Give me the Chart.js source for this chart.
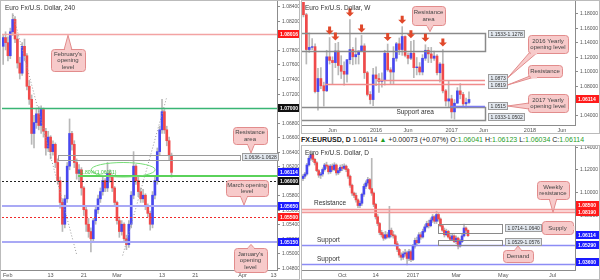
<!DOCTYPE html>
<html>
<head>
<meta charset="utf-8">
<script src="https://cdn.jsdelivr.net/npm/chart.js@4"></script>
<style>
  body { margin: 0; background: #fff; font-family: "Liberation Sans", Arial, sans-serif; }
  .panel { position: absolute; border: 1px solid #bbb; background: #fff; }
  .panel canvas { display: block; }
  #info { position: absolute; left: 301px; top: 136px; font-size: 7px; color: #222; white-space: nowrap; }
  #info .g { color: #1f9e1f; }
</style>
</head>
<body>
<div class="panel" style="left:0;top:0;width:298px;height:278px"><canvas id="h4" width="298" height="278"></canvas></div>
<div class="panel" style="left:301px;top:0;width:297px;height:132px"><canvas id="wk" width="297" height="132"></canvas></div>
<div id="info"><b>FX:EURUSD, D</b> 1.06114 <span class="g">&#9650;</span> +0.00073 (+0.07%) O:<span class="g">1.06041</span> H:<span class="g">1.06123</span> L:<span class="g">1.06034</span> C:<span class="g">1.06114</span></div>
<div class="panel" style="left:301px;top:145px;width:297px;height:133px"><canvas id="dy" width="297" height="133"></canvas></div>
<script>
// ---- 4H candles (Feb 1 - Mar 16 2017)
const h4Open = [1.0785,1.0797,1.0790,1.0772,1.0805,1.0822,1.0795,1.0762,1.0748,1.0785,
  1.0772,1.0730,1.0712,1.0665,1.0680,1.0692,1.0676,1.0698,1.0668,1.0645,
  1.0660,1.0640,1.0650,1.0625,1.0600,1.0570,1.0540,1.0575,1.0620,1.0665,
  1.0650,1.0625,1.0610,1.0615,1.0590,1.0560,1.0540,1.0530,1.0520,1.0545,
  1.0560,1.0575,1.0585,1.0600,1.0590,1.0610,1.0605,1.0590,1.0570,1.0545,
  1.0530,1.0540,1.0520,1.0512,1.0540,1.0580,1.0620,1.0600,1.0585,1.0575,
  1.0580,1.0565,1.0555,1.0540,1.0580,1.0600,1.0640,1.0670,1.0695,1.0670,
  1.0655,1.0635];
const h4High = [1.0800,1.0805,1.0798,1.0810,1.0830,1.0826,1.0800,1.0770,1.0790,1.0795,
  1.0775,1.0738,1.0718,1.0690,1.0700,1.0702,1.0703,1.0700,1.0672,1.0668,
  1.0662,1.0655,1.0652,1.0630,1.0605,1.0575,1.0580,1.0625,1.0685,1.0668,
  1.0655,1.0630,1.0622,1.0618,1.0592,1.0565,1.0548,1.0535,1.0548,1.0565,
  1.0580,1.0590,1.0605,1.0603,1.0625,1.0615,1.0608,1.0592,1.0572,1.0550,
  1.0545,1.0542,1.0525,1.0545,1.0585,1.0640,1.0622,1.0605,1.0590,1.0588,
  1.0582,1.0568,1.0558,1.0585,1.0605,1.0645,1.0675,1.0712,1.0698,1.0675,
  1.0660,1.0638];
const h4Low = [1.0760,1.0780,1.0765,1.0768,1.0800,1.0790,1.0755,1.0740,1.0745,1.0765,
  1.0725,1.0705,1.0650,1.0645,1.0672,1.0670,1.0665,1.0660,1.0635,1.0640,
  1.0630,1.0635,1.0618,1.0595,1.0562,1.0530,1.0535,1.0570,1.0615,1.0642,
  1.0618,1.0602,1.0600,1.0580,1.0552,1.0530,1.0522,1.0502,1.0515,1.0540,
  1.0555,1.0570,1.0580,1.0585,1.0585,1.0598,1.0585,1.0565,1.0540,1.0522,
  1.0525,1.0515,1.0505,1.0508,1.0535,1.0575,1.0595,1.0578,1.0570,1.0570,
  1.0560,1.0550,1.0532,1.0535,1.0575,1.0595,1.0635,1.0665,1.0665,1.0648,
  1.0628,1.0605];
const h4Close = [1.0797,1.0790,1.0772,1.0805,1.0822,1.0795,1.0762,1.0748,1.0785,1.0772,
  1.0730,1.0712,1.0665,1.0680,1.0692,1.0676,1.0698,1.0668,1.0645,1.0660,
  1.0640,1.0650,1.0625,1.0600,1.0570,1.0540,1.0575,1.0620,1.0665,1.0650,
  1.0625,1.0610,1.0615,1.0590,1.0560,1.0540,1.0530,1.0520,1.0545,1.0560,
  1.0575,1.0585,1.0600,1.0590,1.0610,1.0605,1.0590,1.0570,1.0545,1.0530,
  1.0540,1.0520,1.0512,1.0540,1.0580,1.0620,1.0600,1.0585,1.0575,1.0580,
  1.0565,1.0555,1.0540,1.0580,1.0600,1.0640,1.0670,1.0695,1.0670,1.0655,
  1.0635,1.06114];
const h4YTicks = [1.048,1.050,1.052,1.054,1.056,1.058,1.060,1.062,1.064,1.066,1.068,
  1.070,1.072,1.074,1.076,1.078,1.080,1.082,1.084];
const h4XTickPos = [0, 20, 34, 48, 67, 81, 101, 114];
const h4XTickText = ['Feb', '13', '21', 'Mar', '13', '21', 'Apr', '13'];
const febOpen = 1.08016, fib100 = 1.07000, fib618 = 1.06061, round106 = 1.06000;
const marOpen = 1.05650, level1055 = 1.05500, janOpen = 1.05150, lastPrice = 1.06114;
const h4Zone = [1.0636, 1.0628];

// ---- weekly candles, two weeks per bar (Jan 2015 - Mar 2017)
const wOpen = [1.2000,1.1780,1.1300,1.1330,1.1340,1.0720,1.0900,1.0800,1.0730,1.1200,
  1.1150,1.1120,1.1280,1.1080,1.1000,1.0960,1.1160,1.1300,1.1200,1.1230,
  1.1280,1.1350,1.0980,1.0680,1.0610,1.0950,1.0900,1.0860,1.0870,1.1250,
  1.1020,1.0990,1.1180,1.1380,1.1300,1.1480,1.1220,1.1180,1.1250,1.1050,
  1.1060,1.0990,1.1180,1.1290,1.1240,1.1180,1.1210,1.0980,1.1100,1.0730,
  1.0590,1.0620,1.0440,1.0560,1.0730,1.0680,1.0550,1.0570];
const wHigh = [1.2050,1.1800,1.1530,1.1450,1.1380,1.1040,1.1050,1.0850,1.1290,1.1466,
  1.1200,1.1385,1.1400,1.1215,1.1130,1.1160,1.1714,1.1330,1.1460,1.1280,
  1.1495,1.1380,1.1000,1.0720,1.1040,1.1060,1.0970,1.0980,1.1290,1.1376,
  1.1050,1.1340,1.1400,1.1460,1.1616,1.1490,1.1250,1.1415,1.1428,1.1190,
  1.1120,1.1230,1.1366,1.1330,1.1330,1.1280,1.1230,1.1120,1.1299,1.0750,
  1.0873,1.0670,1.0610,1.0775,1.0829,1.0710,1.0630,1.0715];
const wLow = [1.1750,1.1100,1.1260,1.1300,1.0700,1.0462,1.0760,1.0520,1.0720,1.1100,
  1.0820,1.1050,1.0950,1.0900,1.0810,1.0850,1.1100,1.1090,1.1100,1.1100,
  1.1270,1.0900,1.0660,1.0550,1.0524,1.0800,1.0710,1.0780,1.0810,1.1000,
  1.0820,1.0820,1.1140,1.1230,1.1220,1.1200,1.1100,1.1160,1.0912,1.0950,
  1.0950,1.0950,1.1150,1.1120,1.1120,1.1150,1.0950,1.0850,1.0700,1.0520,
  1.0500,1.0352,1.0340,1.0560,1.0620,1.0520,1.0494,1.0550];
const wClose = [1.1780,1.1300,1.1330,1.1340,1.0720,1.0900,1.0800,1.0730,1.1200,1.1150,
  1.1120,1.1280,1.1080,1.1000,1.0960,1.1160,1.1300,1.1200,1.1230,1.1280,
  1.1350,1.0980,1.0680,1.0610,1.0950,1.0900,1.0860,1.0870,1.1250,1.1020,
  1.0990,1.1180,1.1380,1.1300,1.1480,1.1220,1.1180,1.1250,1.1050,1.1060,
  1.0990,1.1180,1.1290,1.1240,1.1180,1.1210,1.0980,1.1100,1.0730,1.0590,
  1.0620,1.0440,1.0560,1.0730,1.0680,1.0550,1.0570,1.06114];
const wYTicks = [1.04, 1.06, 1.08, 1.10, 1.12, 1.14, 1.16, 1.18];
const wXTickPos = [10, 25, 36, 51, 62, 78, 89];
const wXTickText = ['Jun', '2016', 'Jun', '2017', 'Jun', '2018', 'Jun'];
const wResZone = [1.1533, 1.1278], wSupZone = [1.0502, 1.0333];
const open2016 = 1.0873, wRes = 1.0819, open2017 = 1.0515;
const wPeaks = [9, 11, 16, 20, 29, 34, 37, 42, 48];

// ---- daily candles, two sessions per bar (Aug 2016 - Mar 2017)
const dOpen = [1.1120,1.1140,1.1160,1.1240,1.1300,1.1330,1.1290,1.1260,1.1190,1.1150,
  1.1160,1.1200,1.1240,1.1230,1.1180,1.1230,1.1200,1.1240,1.1170,1.1190,
  1.1220,1.1210,1.1230,1.1200,1.1140,1.1060,1.0990,1.0970,1.0930,1.0880,
  1.0900,1.0980,1.1050,1.1080,1.1110,1.1030,1.0990,1.0890,1.0780,1.0720,
  1.0640,1.0620,1.0590,1.0620,1.0600,1.0660,1.0620,1.0610,1.0540,1.0490,
  1.0440,1.0420,1.0450,1.0460,1.0410,1.0470,1.0400,1.0520,1.0570,1.0550,
  1.0620,1.0600,1.0650,1.0690,1.0720,1.0700,1.0750,1.0780,1.0740,1.0800,
  1.0760,1.0700,1.0660,1.0620,1.0650,1.0600,1.0580,1.0610,1.0560,1.0590,
  1.0520,1.0560,1.0610,1.0680,1.0660];
const dHigh = [1.1155,1.1175,1.1255,1.1320,1.1366,1.1345,1.1300,1.1270,1.1200,1.1175,
  1.1215,1.1255,1.1265,1.1240,1.1245,1.1250,1.1260,1.1250,1.1210,1.1240,
  1.1245,1.1250,1.1240,1.1210,1.1150,1.1070,1.1000,1.0990,1.0940,1.0920,
  1.0990,1.1070,1.1100,1.1130,1.1120,1.1299,1.1000,1.0900,1.0800,1.0730,
  1.0660,1.0640,1.0650,1.0640,1.0873,1.0680,1.0650,1.0620,1.0560,1.0500,
  1.0460,1.0470,1.0490,1.0475,1.0490,1.0485,1.0535,1.0590,1.0600,1.0640,
  1.0640,1.0670,1.0710,1.0740,1.0750,1.0770,1.0800,1.0790,1.0829,1.0810,
  1.0770,1.0710,1.0680,1.0670,1.0660,1.0620,1.0630,1.0620,1.0610,1.0600,
  1.0580,1.0625,1.0715,1.0690,1.0665];
const dLow = [1.1100,1.1120,1.1150,1.1230,1.1280,1.1270,1.1240,1.1180,1.1130,1.1120,
  1.1140,1.1185,1.1210,1.1160,1.1165,1.1185,1.1190,1.1150,1.1155,1.1175,
  1.1190,1.1200,1.1180,1.1120,1.1040,1.0970,1.0950,1.0910,1.0860,1.0860,
  1.0880,1.0960,1.1030,1.1060,1.1020,1.0970,1.0870,1.0760,1.0700,1.0620,
  1.0600,1.0570,1.0580,1.0590,1.0590,1.0600,1.0590,1.0520,1.0470,1.0420,
  1.0395,1.0400,1.0430,1.0352,1.0390,1.0380,1.0390,1.0500,1.0530,1.0540,
  1.0580,1.0590,1.0640,1.0680,1.0680,1.0690,1.0730,1.0720,1.0720,1.0740,
  1.0690,1.0650,1.0600,1.0610,1.0590,1.0570,1.0570,1.0550,1.0540,1.0494,
  1.0510,1.0550,1.0600,1.0640,1.0605];
const dClose = [1.1140,1.1160,1.1240,1.1300,1.1330,1.1290,1.1260,1.1190,1.1150,1.1160,
  1.1200,1.1240,1.1230,1.1180,1.1230,1.1200,1.1240,1.1170,1.1190,1.1220,
  1.1210,1.1230,1.1200,1.1140,1.1060,1.0990,1.0970,1.0930,1.0880,1.0900,
  1.0980,1.1050,1.1080,1.1110,1.1030,1.0990,1.0890,1.0780,1.0720,1.0640,
  1.0620,1.0590,1.0620,1.0600,1.0660,1.0620,1.0610,1.0540,1.0490,1.0440,
  1.0420,1.0450,1.0460,1.0410,1.0470,1.0400,1.0520,1.0570,1.0550,1.0620,
  1.0600,1.0650,1.0690,1.0720,1.0700,1.0750,1.0780,1.0740,1.0800,1.0760,
  1.0700,1.0660,1.0620,1.0650,1.0600,1.0580,1.0610,1.0560,1.0590,1.0520,
  1.0560,1.0610,1.0680,1.0660,1.06114];
const dYTicks = [1.04, 1.06, 1.08, 1.10, 1.12, 1.14];
const dXTickPos = [20, 37, 56, 78, 102, 127];
const dXTickText = ['Oct', '14', '2017', 'Mar', 'May', 'Jul'];
const dResTop = 1.0850, dResBot = 1.0819, dSup1 = 1.0529, dSup2 = 1.0360;
const dSupply = [1.0714, 1.0640], dDemand = [1.0576, 1.0529];

const UP = '#4848f0', DN = '#f04a4a', WICK = '#b8b8b8';
const FONT = '"Liberation Sans", Arial, sans-serif';

function X(ch, i) { return ch.scales.x.getPixelForValue(i); }
function Y(ch, p) { return ch.scales.y.getPixelForValue(p); }
function clamp(v, a, b) { return Math.max(a, Math.min(b, v)); }

function inArea(ch, fn) {
  const a = ch.chartArea, ctx = ch.ctx;
  ctx.save();
  ctx.beginPath();
  ctx.rect(a.left, a.top, a.right - a.left, a.bottom - a.top);
  ctx.clip();
  fn(ctx, a);
  ctx.restore();
}

function hLine(ch, p, color, w, dash, i0, i1) {
  inArea(ch, (ctx, a) => {
    const y = Math.round(Y(ch, p)) + (w % 2 ? 0.5 : 0);
    ctx.strokeStyle = color; ctx.lineWidth = w; ctx.setLineDash(dash || []);
    ctx.beginPath();
    ctx.moveTo(i0 == null ? a.left : X(ch, i0), y);
    ctx.lineTo(i1 == null ? a.right : X(ch, i1), y);
    ctx.stroke();
  });
}

function diag(ch, i0, p0, i1, p1) {
  inArea(ch, ctx => {
    ctx.strokeStyle = '#9a9a9a'; ctx.lineWidth = 1; ctx.setLineDash([1, 2]);
    ctx.beginPath(); ctx.moveTo(X(ch, i0), Y(ch, p0)); ctx.lineTo(X(ch, i1), Y(ch, p1)); ctx.stroke();
  });
}

function zone(ch, i0, i1, p0, p1, stroke, fill, lw) {
  inArea(ch, (ctx, a) => {
    const x0 = i0 == null ? a.left - 2 : Math.round(X(ch, i0)) + 0.5;
    const x1 = Math.round(X(ch, i1)) + 0.5;
    const y0 = Math.round(Y(ch, p0)) + 0.5, y1 = Math.round(Y(ch, p1)) + 0.5;
    if (fill) { ctx.fillStyle = fill; ctx.fillRect(x0, y0, x1 - x0, y1 - y0); }
    if (stroke) { ctx.strokeStyle = stroke; ctx.lineWidth = lw || 1; ctx.strokeRect(x0, y0, x1 - x0, y1 - y0); }
  });
}

function yAxis(ch, ticks) {
  const ctx = ch.ctx, a = ch.chartArea;
  ctx.save();
  ctx.strokeStyle = '#8c8c8c'; ctx.lineWidth = 1;
  ctx.beginPath(); ctx.moveTo(a.right + 0.5, 0); ctx.lineTo(a.right + 0.5, a.bottom + 1); ctx.stroke();
  ctx.font = '5px ' + FONT; ctx.fillStyle = '#555'; ctx.textBaseline = 'middle'; ctx.textAlign = 'left';
  ticks.forEach(v => {
    const y = Math.round(Y(ch, v)) + 0.5;
    ctx.beginPath(); ctx.moveTo(a.right, y); ctx.lineTo(a.right + 3, y); ctx.stroke();
    ctx.fillText(v.toFixed(5), a.right + 5, y);
  });
  ctx.restore();
}

function xAxis(ch, pos, text) {
  const ctx = ch.ctx, a = ch.chartArea;
  ctx.save();
  ctx.strokeStyle = '#8c8c8c'; ctx.lineWidth = 1;
  ctx.beginPath(); ctx.moveTo(0, a.bottom + 0.5); ctx.lineTo(a.right + 1, a.bottom + 0.5); ctx.stroke();
  ctx.font = '5.5px ' + FONT; ctx.fillStyle = '#555'; ctx.textBaseline = 'middle'; ctx.textAlign = 'center';
  pos.forEach((i, k) => {
    const w = ctx.measureText(text[k]).width;
    ctx.fillText(text[k], Math.max(X(ch, i), w / 2 + 2), a.bottom + 5);
  });
  ctx.restore();
}

function priceTag(ch, p, text, bg, dy) {
  const ctx = ch.ctx, a = ch.chartArea;
  const y = Math.round(Y(ch, p) + (dy || 0));
  ctx.save();
  ctx.fillStyle = bg; ctx.fillRect(a.right + 1, y - 4, ch.width - a.right - 1, 8);
  ctx.fillStyle = '#fff'; ctx.font = 'bold 5px ' + FONT; ctx.textBaseline = 'middle'; ctx.textAlign = 'left';
  ctx.fillText(text, a.right + 3, y + 0.5);
  ctx.restore();
}

function rangeTag(ch, x, y, text) {
  const ctx = ch.ctx;
  ctx.save();
  ctx.font = '5px ' + FONT;
  const w = Math.round(ctx.measureText(text).width) + 4;
  x = Math.round(x) + 0.5; y = Math.round(y);
  ctx.fillStyle = '#e2e8ef'; ctx.strokeStyle = '#9d9d9d'; ctx.lineWidth = 1;
  ctx.fillRect(x, y - 3.5, w, 7); ctx.strokeRect(x, y - 3.5, w, 7);
  ctx.fillStyle = '#333'; ctx.textBaseline = 'middle'; ctx.textAlign = 'left';
  ctx.fillText(text, x + 2, y + 0.5);
  ctx.restore();
  return { right: x + w, top: y - 4, bottom: y + 4, mid: y };
}

function callout(ch, bx, by, bw, bh, lines, tx, ty) {
  const ctx = ch.ctx;
  let b1, b2, patch;
  if (ty > by + bh) {
    const cx = clamp(tx, bx + 6, bx + bw - 6);
    b1 = [cx - 4, by + bh - 1]; b2 = [cx + 4, by + bh - 1]; patch = [cx - 3, by + bh - 1.5, 6, 3];
  } else if (ty < by) {
    const cx = clamp(tx, bx + 6, bx + bw - 6);
    b1 = [cx - 4, by + 1]; b2 = [cx + 4, by + 1]; patch = [cx - 3, by - 0.5, 6, 3];
  } else if (tx < bx) {
    const cy = clamp(ty, by + 4, by + bh - 4);
    b1 = [bx + 1, cy - 3]; b2 = [bx + 1, cy + 3]; patch = [bx - 0.5, cy - 2, 3, 4];
  } else {
    const cy = clamp(ty, by + 4, by + bh - 4);
    b1 = [bx + bw - 1, cy - 3]; b2 = [bx + bw - 1, cy + 3]; patch = [bx + bw - 1.5, cy - 2, 3, 4];
  }
  ctx.save();
  ctx.fillStyle = '#f7caca'; ctx.strokeStyle = '#e28c8c'; ctx.lineWidth = 1;
  ctx.beginPath(); ctx.moveTo(b1[0], b1[1]); ctx.lineTo(tx, ty); ctx.lineTo(b2[0], b2[1]); ctx.closePath();
  ctx.fill(); ctx.stroke();
  ctx.beginPath(); ctx.roundRect(bx + 0.5, by + 0.5, bw, bh, 3); ctx.fill(); ctx.stroke();
  ctx.fillRect(patch[0], patch[1], patch[2], patch[3]);
  ctx.fillStyle = '#444'; ctx.font = '6px ' + FONT; ctx.textAlign = 'center'; ctx.textBaseline = 'middle';
  const lh = 6.5, y0 = by + bh / 2 - (lines.length - 1) * lh / 2 + 0.5;
  lines.forEach((t, k) => ctx.fillText(t, bx + bw / 2, y0 + k * lh));
  ctx.restore();
}

function note(ch, x, y, text, color, size) {
  const ctx = ch.ctx;
  ctx.save();
  ctx.fillStyle = color || '#333'; ctx.font = (size || 6) + 'px ' + FONT;
  ctx.textAlign = 'left'; ctx.textBaseline = 'alphabetic';
  ctx.fillText(text, x, y);
  ctx.restore();
}

function downArrow(ch, i, p) {
  const ctx = ch.ctx, x = X(ch, i), y = Y(ch, p) - 3;
  ctx.save();
  ctx.fillStyle = '#e0482a';
  ctx.beginPath();
  ctx.moveTo(x, y); ctx.lineTo(x - 4, y - 4); ctx.lineTo(x - 1.5, y - 4); ctx.lineTo(x - 1.5, y - 8);
  ctx.lineTo(x + 1.5, y - 8); ctx.lineTo(x + 1.5, y - 4); ctx.lineTo(x + 4, y - 4); ctx.closePath();
  ctx.fill();
  ctx.restore();
}

function candleChart(id, o, h, l, c, slots, yMin, yMax, pad, draw) {
  return new Chart(document.getElementById(id), {
    type: 'bar',
    data: {
      labels: Array.from({ length: slots }, (_, i) => String(i)),
      datasets: [
        { data: o.map((v, i) => [v, c[i]]), backgroundColor: o.map((v, i) => c[i] >= v ? UP : DN),
          barThickness: 2, grouped: false },
        { data: o.map((v, i) => [l[i], h[i]]), backgroundColor: WICK, barThickness: 1, grouped: false }
      ]
    },
    options: {
      responsive: false, animation: false, events: [],
      layout: { padding: pad },
      plugins: { legend: { display: false }, tooltip: { enabled: false } },
      scales: {
        x: { display: false },
        y: { display: false, min: yMin, max: yMax }
      }
    },
    plugins: [{ id: 'overlay', afterDatasetsDraw: draw }]
  });
}

// ---- 4H panel
candleChart('h4', h4Open, h4High, h4Low, h4Close, 116, 1.0477, 1.0846,
  { left: 1, top: 1, right: 22, bottom: 9 }, ch => {
    diag(ch, 4.2, 1.0828, 31.1, 1.0497);
    diag(ch, 50.4, 1.0497, 68.9, 1.0714);
    hLine(ch, febOpen, '#f3a3a3', 1.5);
    hLine(ch, fib100, '#39b574', 1.5);
    zone(ch, 23.1, 99.9, h4Zone[0], h4Zone[1], '#9a9a9a', null, 1);
    hLine(ch, fib618, '#5ad25a', 2, null, 31.6);
    hLine(ch, round106, '#222', 1, [2, 2]);
    hLine(ch, marOpen, '#a9a9f5', 2);
    hLine(ch, level1055, '#f02a2a', 1, [2, 2]);
    hLine(ch, janOpen, '#a9a9f5', 2);
    inArea(ch, c => {
      c.strokeStyle = '#77dd77'; c.lineWidth = 1;
      c.beginPath();
      c.ellipse(X(ch, 50.6), Y(ch, 1.0615), X(ch, 64.1) - X(ch, 50.6), Y(ch, 1.0605) - Y(ch, 1.0615), 0, 0, Math.PI * 2);
      c.stroke();
    });
    note(ch, X(ch, 31.6), Y(ch, fib618) - 2, '61.80%(1.06061)', '#3fbf3f', 5);
    yAxis(ch, h4YTicks);
    xAxis(ch, h4XTickPos, h4XTickText);
    const zt = rangeTag(ch, X(ch, 99.9) + 2, (Y(ch, h4Zone[0]) + Y(ch, h4Zone[1])) / 2, '1.0636-1.0628');
    priceTag(ch, febOpen, '1.08016', '#ff1a1a');
    priceTag(ch, fib100, '1.07000', '#111');
    priceTag(ch, lastPrice, '1.06114', '#1a1aff');
    priceTag(ch, round106, '1.06000', '#111');
    priceTag(ch, marOpen, '1.05650', '#1a1aff');
    priceTag(ch, level1055, '1.05500', '#ff1a1a');
    priceTag(ch, janOpen, '1.05150', '#1a1aff');
    callout(ch, 50, 48, 34, 22, ["February's", 'opening', 'level'], 67, Y(ch, febOpen) + 1);
    callout(ch, 232, 126, 34, 17, ['Resistance', 'area'], 250, zt.top);
    callout(ch, 225, 179, 42, 16, ['March opening', 'level'], 243, Y(ch, marOpen) - 1);
    callout(ch, 233, 247, 33, 24, ["January's", 'opening', 'level'], 250, Y(ch, janOpen) + 2);
    note(ch, 4, 9, 'Euro Fx/U.S. Dollar, 240', '#333', 6.5);
  });

// ---- weekly panel
candleChart('wk', wOpen, wHigh, wLow, wClose, 94, 1.0259, 1.1956,
  { left: 0, top: 1, right: 24, bottom: 8 }, ch => {
    zone(ch, null, 62.5, wResZone[0], wResZone[1], '#8a8a8a', null, 1.5);
    zone(ch, null, 62.5, wSupZone[0], wSupZone[1], '#8a8a8a', null, 1.5);
    hLine(ch, open2016, '#f08c8c', 1.5, null, 25.3, 62.5);
    hLine(ch, wRes, '#f08c8c', 1.5, null, 7.4, 62.5);
    hLine(ch, open2017, '#7b7bf0', 1.5, null, 50.5, 62.5);
    wPeaks.forEach(i => downArrow(ch, i, wHigh[i]));
    note(ch, X(ch, 32), Y(ch, 1.0405), 'Support area', '#333', 6.5);
    yAxis(ch, wYTicks);
    xAxis(ch, wXTickPos, wXTickText);
    const tx = X(ch, 62.5) + 3;
    rangeTag(ch, tx, Y(ch, wResZone[0]) + 1, '1.1533-1.1278');
    const t16 = rangeTag(ch, tx, Y(ch, open2016) - 2, '1.0873');
    const tRes = rangeTag(ch, tx, Y(ch, wRes) + 1, '1.0819');
    const t17 = rangeTag(ch, tx, Y(ch, open2017), '1.0515');
    rangeTag(ch, tx, Y(ch, wSupZone[1]) - 3, '1.0333-1.0502');
    priceTag(ch, lastPrice, '1.06114', '#ff1a1a');
    callout(ch, 110, 5, 33, 19, ['Resistance', 'area'], 128, Y(ch, wResZone[0]) - 1);
    callout(ch, 226, 34, 40, 18, ['2016 Yearly', 'opening level'], t16.right, t16.mid);
    callout(ch, 226, 64, 34, 12, ['Resistance'], tRes.right, tRes.mid);
    callout(ch, 226, 93, 40, 18, ['2017 Yearly', 'opening level'], t17.right, t17.mid);
    note(ch, 3, 9, 'Euro Fx/U.S. Dollar, W', '#333', 6.5);
  });

// ---- daily panel
candleChart('dy', dOpen, dHigh, dLow, dClose, 139, 1.0307, 1.1391,
  { left: 0, top: 2, right: 24, bottom: 9 }, ch => {
    zone(ch, null, 140, dResTop, dResBot, null, 'rgba(245,140,140,0.22)');
    hLine(ch, dResTop, '#f29a9a', 1.5);
    hLine(ch, dResBot, '#f29a9a', 1.5);
    hLine(ch, dSup1, '#8c8cf5', 1.5);
    hLine(ch, dSup2, '#8c8cf5', 1.5);
    zone(ch, 68.7, 101.3, dSupply[0], dSupply[1], '#8a8a8a', null, 1);
    zone(ch, 68.7, 101.3, dDemand[0], dDemand[1], '#8a8a8a', null, 1);
    note(ch, 12, Y(ch, dResTop) - 4, 'Resistance', '#333', 6.5);
    note(ch, 15, Y(ch, dSup1) - 3, 'Support', '#333', 6.5);
    note(ch, 15, Y(ch, dSup2) - 3, 'Support', '#333', 6.5);
    yAxis(ch, dYTicks);
    xAxis(ch, dXTickPos, dXTickText);
    const tx = X(ch, 101.3) + 3;
    const tS = rangeTag(ch, tx, (Y(ch, dSupply[0]) + Y(ch, dSupply[1])) / 2, '1.0714-1.0640');
    const tD = rangeTag(ch, tx, (Y(ch, dDemand[0]) + Y(ch, dDemand[1])) / 2, '1.0529-1.0576');
    priceTag(ch, dResTop, '1.08500', '#ff1a1a', -4);
    priceTag(ch, dResBot, '1.08190', '#ff1a1a');
    priceTag(ch, lastPrice, '1.06114', '#1a1aff', -1);
    priceTag(ch, dSup1, '1.05290', '#1a1aff');
    priceTag(ch, dSup2, '1.03600', '#1a1aff', -2);
    callout(ch, 235, 35, 32, 18, ['Weekly', 'resistance'], 251, Y(ch, dResBot));
    callout(ch, 240, 75, 31, 13, ['Supply'], tS.right + 1, tS.mid);
    callout(ch, 201, 104, 30, 12, ['Demand'], 216, tD.bottom);
    note(ch, 3, 9, 'Euro Fx/U.S. Dollar, D', '#333', 6.5);
  });
</script>
</body>
</html>
